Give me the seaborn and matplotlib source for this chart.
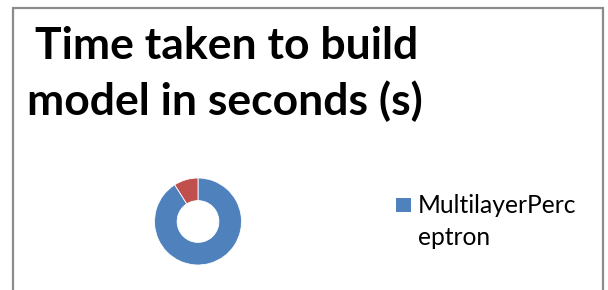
import matplotlib
matplotlib.use("Agg")
import matplotlib.pyplot as plt
import seaborn as sns
from matplotlib.patches import Rectangle

sns.set_theme(style="white")
plt.rcParams['font.family'] = ['Lato', 'DejaVu Sans']

title_lines = ["Time taken to build", "model in seconds (s)"]
categories = ["MultilayerPerceptron", "Other"]
values = [0.91, 0.09]
colors = ["#4F81BD", "#C0504D"]
legend_lines = ["MultilayerPerc", "eptron"]

W, H = 608, 290
fig = plt.figure(figsize=(W / 100, H / 100), dpi=100)
fig.patch.set_facecolor("white")

def fx(px):
    return px / W

def fy(py):
    return 1 - py / H

# frame
fig.patches.append(Rectangle((fx(13), fy(300)), fx(603) - fx(13), fy(8) - fy(300),
                             transform=fig.transFigure, fill=False,
                             edgecolor="#8c8c8c", linewidth=1.6, clip_on=False))

# donut
cx, cy, r = 198, 221.5, 43.5
ax = fig.add_axes([fx(cx - r), fy(cy + r), (2 * r) / W, (2 * r) / H])
ax.pie(values, colors=colors, startangle=90, counterclock=False,
       wedgeprops=dict(width=0.52, edgecolor="white", linewidth=0.6))
ax.set_xlim(-1, 1)
ax.set_ylim(-1, 1)
ax.set_aspect("equal")
ax.axis("off")

# title
fig.text(fx(35), fy(59), title_lines[0], fontsize=32, fontweight="bold",
         color="black", va="baseline", ha="left")
fig.text(fx(27), fy(115), title_lines[1], fontsize=32, fontweight="bold",
         color="black", va="baseline", ha="left")

# legend
fig.patches.append(Rectangle((fx(396), fy(212)), fx(411) - fx(396), fy(198) - fy(212),
                             transform=fig.transFigure, facecolor=colors[0],
                             edgecolor="none"))
fig.text(fx(418), fy(213), legend_lines[0], fontsize=17.7, color="black",
         va="baseline", ha="left")
fig.text(fx(418), fy(245), legend_lines[1], fontsize=17.7, color="black",
         va="baseline", ha="left")

fig.savefig("out.png", dpi=100, facecolor="white")
